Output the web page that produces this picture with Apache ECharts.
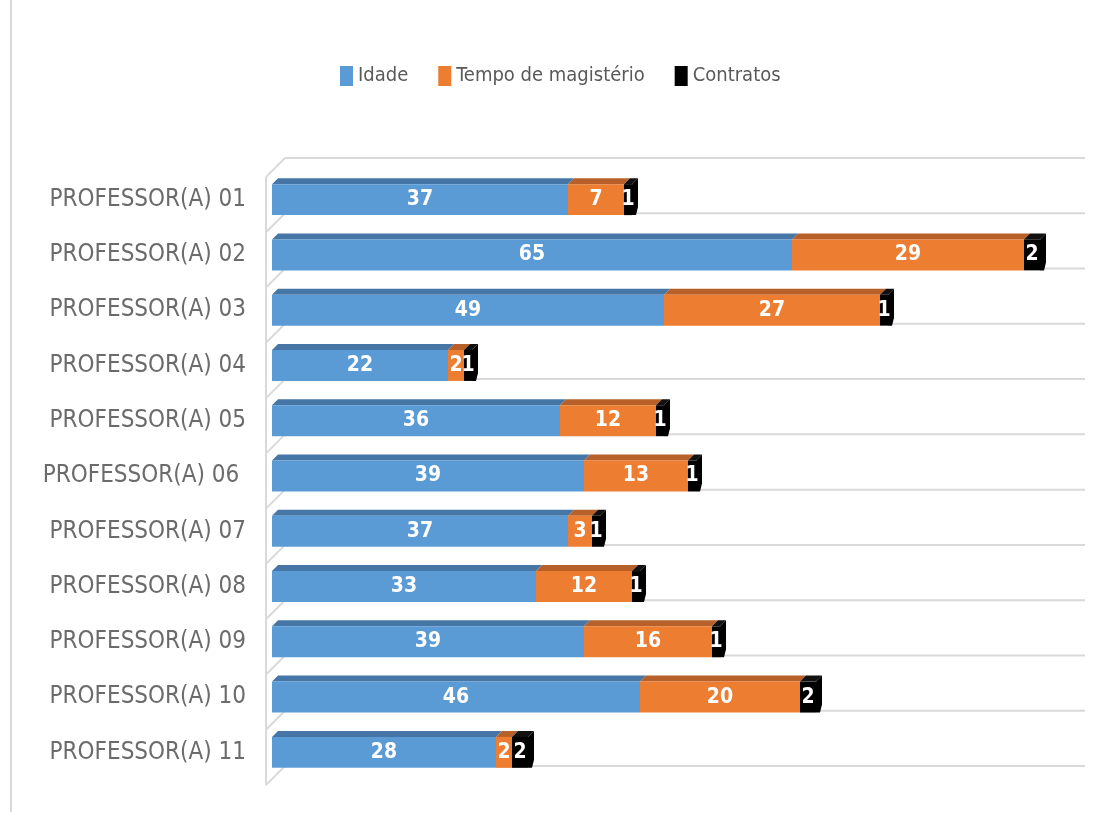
<!DOCTYPE html>
<html>
<head>
<meta charset="utf-8">
<script src="https://cdn.jsdelivr.net/npm/echarts@6/dist/echarts.min.js"></script>
<style>
html,body{margin:0;padding:0;background:#fff;}
#chart{width:1113px;height:827px;}
</style>
</head>
<body>
<div id="chart"></div>
<script>
const categories = ['PROFESSOR(A) 01','PROFESSOR(A) 02','PROFESSOR(A) 03','PROFESSOR(A) 04','PROFESSOR(A) 05','PROFESSOR(A) 06 ','PROFESSOR(A) 07','PROFESSOR(A) 08','PROFESSOR(A) 09','PROFESSOR(A) 10','PROFESSOR(A) 11'];
const seriesNames = ['Idade','Tempo de magistério','Contratos'];
const idade = [37,65,49,22,36,39,37,33,39,46,28];
const tempo = [7,29,27,2,12,13,3,12,16,20,2];
const contratos = [1,2,1,1,1,1,1,1,1,2,2];

const frontColors = ['#5B9BD5','#ED7D31','#000000'];
const topColors = ['#4676A6','#B8602A','#111111'];
const NARROW = "'DejaVu Sans Condensed',sans-serif";
const DX = 6, DY = -6;           // bar depth
const BACK_DX = 13, BACK_DY = -14; // back plane offset
const WALL_DX = -6, WALL_DY = 5;   // front wall offset
const BAR_FRAC = 0.56;

const chart = echarts.init(document.getElementById('chart'));

function bgItem(params, api){
  const i = api.value(1);
  const band = api.size([0,1])[1];
  const c0 = api.coord([0, i]);
  const c100 = api.coord([100, i]);
  const style = {stroke:'#d9d9d9', lineWidth:2, fill:null};
  const children = [];
  const bounds = [c0[1] - band/2];
  if (i === categories.length - 1) bounds.push(c0[1] + band/2);
  bounds.forEach(function(b){
    children.push({type:'line', shape:{x1:c0[0]+WALL_DX, y1:b+WALL_DY, x2:c0[0]+BACK_DX, y2:b+BACK_DY}, style:style});
    children.push({type:'line', shape:{x1:c0[0]+BACK_DX, y1:b+BACK_DY, x2:c100[0]+BACK_DX, y2:b+BACK_DY}, style:style});
  });
  children.push({type:'line', shape:{x1:c0[0]+WALL_DX, y1:c0[1]-band/2+WALL_DY, x2:c0[0]+WALL_DX, y2:c0[1]+band/2+WALL_DY}, style:style});
  return {type:'group', children:children};
}

function topItem(params, api){
  const i = api.value(1);
  const vals = [api.value(2), api.value(3), api.value(4)];
  const band = api.size([0,1])[1];
  const h = band * BAR_FRAC;
  const c = api.coord([0, i]);
  const yTop = c[1] - h/2, yBot = c[1] + h/2;
  let cum = 0;
  const children = [];
  let x2 = c[0];
  for (let s = 0; s < 3; s++){
    const x1 = api.coord([cum, i])[0];
    cum += vals[s];
    x2 = api.coord([cum, i])[0];
    children.push({type:'polygon', shape:{points:[[x1,yTop],[x2,yTop],[x2+DX,yTop+DY],[x1+DX,yTop+DY]]}, style:{fill:topColors[s]}});
  }
  children.push({type:'polygon', shape:{points:[[x2,yTop],[x2+DX,yTop+DY],[x2+DX,yBot+DY-2],[x2+DX-2,yBot],[x2,yBot]]}, style:{fill:'#000'}});
  return {type:'group', children:children};
}

const barSeries = [idade, tempo, contratos].map(function(arr, s){
  return {
    name: seriesNames[s],
    type: 'bar',
    stack: 'total',
    barWidth: (BAR_FRAC*100) + '%',
    z: 3,
    itemStyle: {color: frontColors[s]},
    label: {show:true, position:'inside', color:'#fff', fontWeight:'bold', fontSize:21, fontFamily:NARROW},
    emphasis: {disabled:true},
    data: arr
  };
});

chart.setOption({
  animation: false,
  graphic: [{type:'line', shape:{x1:11, y1:0, x2:11, y2:812}, style:{stroke:'#d9d9d9', lineWidth:2}}],
  legend: {
    data: seriesNames,
    left: 335, top: 61,
    icon: 'rect', itemWidth: 13, itemHeight: 20, itemGap: 30,
    textStyle: {color:'#595959', fontSize:20, fontFamily:NARROW}
  },
  grid: {left:272, right:41, top:172, bottom:47, containLabel:false},
  xAxis: {type:'value', min:0, max:100, show:false},
  yAxis: {
    type:'category', data: categories, inverse:true,
    axisLine:{show:false}, axisTick:{show:false}, splitLine:{show:false},
    axisLabel:{margin:26, color:'#6b6b6b', fontSize:24, fontFamily:"'DejaVu Sans Condensed',sans-serif"}
  },
  series: [
    {type:'custom', silent:true, z:1, renderItem:bgItem, encode:{x:0,y:1},
     data: categories.map(function(c,i){return [0,i];})},
    {type:'custom', silent:true, z:2, renderItem:topItem, encode:{x:0,y:1},
     data: categories.map(function(c,i){return [idade[i]+tempo[i]+contratos[i], i, idade[i], tempo[i], contratos[i]];})}
  ].concat(barSeries)
});
</script>
</body>
</html>
